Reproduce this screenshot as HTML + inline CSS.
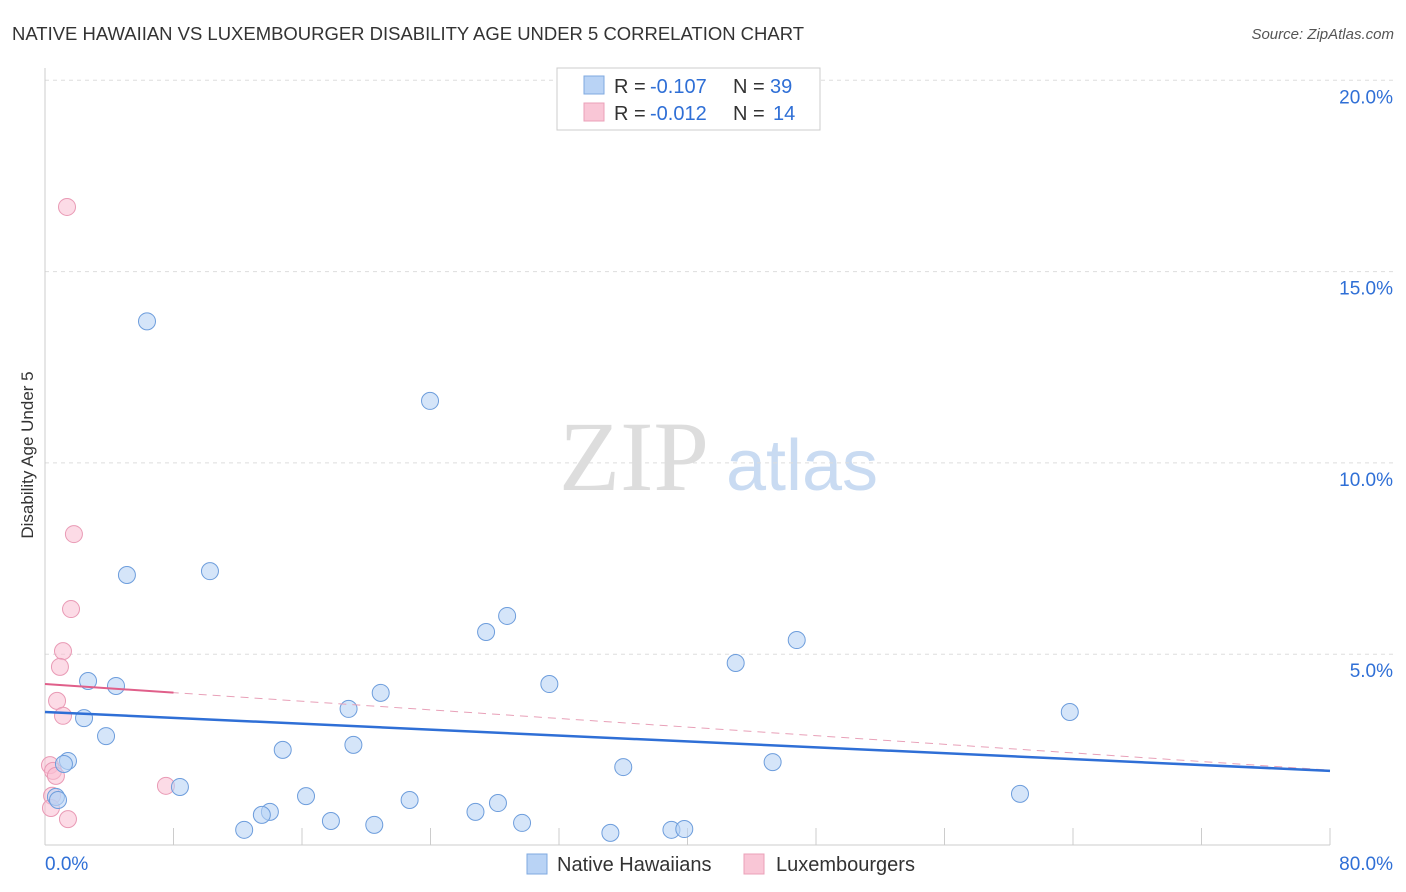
<!DOCTYPE html>
<html><head><meta charset="utf-8"><style>
body{margin:0;background:#fff;font-family:"Liberation Sans",sans-serif;}
</style></head><body>
<svg width="1406" height="892" xmlns="http://www.w3.org/2000/svg" style="display:block">
<text x="12" y="40" font-size="18" fill="#333" textLength="792" lengthAdjust="spacingAndGlyphs">NATIVE HAWAIIAN VS LUXEMBOURGER DISABILITY AGE UNDER 5 CORRELATION CHART</text>
<text x="1394" y="39" font-size="15" fill="#555" font-style="italic" text-anchor="end">Source: ZipAtlas.com</text>
<text x="33" y="455" font-size="17" fill="#333" text-anchor="middle" transform="rotate(-90 33 455)">Disability Age Under 5</text>
<g>
<text x="634" y="490" font-size="100" fill="#ddd" font-family="Liberation Serif,serif" text-anchor="middle">ZIP</text>
<text x="802" y="490" font-size="72" fill="#c9dbf2" text-anchor="middle">atlas</text>
</g>
<g id="grid"></g><g id="axes"></g><g id="marks"></g>
<g>
<rect x="557" y="68" width="263" height="62" fill="#fff" stroke="#ccc"/>
<rect x="584" y="76" width="20" height="18" fill="#b9d3f5" stroke="#7fa9e0"/>
<rect x="584" y="103" width="20" height="18" fill="#f9c6d6" stroke="#eba0b8"/>
<g font-size="20">
<text x="614" y="93" fill="#333">R =</text><text x="650" y="93" fill="#2f6fd6">-0.107</text>
<text x="733" y="93" fill="#333">N =</text><text x="770" y="93" fill="#2f6fd6">39</text>
<text x="614" y="120" fill="#333">R =</text><text x="650" y="120" fill="#2f6fd6">-0.012</text>
<text x="733" y="120" fill="#333">N =</text><text x="773" y="120" fill="#2f6fd6">14</text>
</g>
</g>
<g>
<rect x="527" y="854" width="20" height="20" fill="#b9d3f5" stroke="#7fa9e0"/>
<text x="557" y="871" font-size="20" fill="#333">Native Hawaiians</text>
<rect x="744" y="854" width="20" height="20" fill="#f9c6d6" stroke="#eba0b8"/>
<text x="776" y="871" font-size="20" fill="#333">Luxembourgers</text>
</g>
</svg>
<script>
const yTicks=[5,10,15,20];
const yTickLabels=["5.0%","10.0%","15.0%","20.0%"];
const xTickLabels=["0.0%","80.0%"];
const blueX=[6.35,23.97,5.1,10.27,27.46,28.77,46.8,43.0,31.4,2.68,4.42,20.9,18.9,63.8,2.43,3.8,19.2,14.8,1.43,1.18,36.0,45.3,8.4,60.7,16.25,22.7,28.2,0.68,0.81,26.8,14.0,13.5,17.8,29.7,20.5,12.4,35.2,39.0,39.8];
const blueY=[13.7,11.62,7.07,7.17,5.58,6.0,5.37,4.77,4.22,4.3,4.17,3.99,3.57,3.49,3.33,2.86,2.63,2.5,2.21,2.13,2.05,2.18,1.53,1.35,1.29,1.19,1.11,1.27,1.19,0.88,0.88,0.8,0.64,0.59,0.54,0.41,0.33,0.41,0.43];
const pinkX=[1.37,1.8,1.62,1.12,0.93,0.75,1.12,0.31,0.5,0.68,7.53,0.44,0.37,1.43];
const pinkY=[16.69,8.14,6.18,5.08,4.67,3.78,3.39,2.1,1.95,1.82,1.56,1.3,0.98,0.69];
const blueTrend=[3.49,1.95];
const pinkTrend=[4.22,1.97];
const NS="http://www.w3.org/2000/svg";
const X=v=>45+v*16.0625, Y=v=>845.5-v*38.26;
function mk(tag,attrs,parent){const e=document.createElementNS(NS,tag);for(const k in attrs)e.setAttribute(k,attrs[k]);document.getElementById(parent).appendChild(e);return e;}
yTicks.forEach((t,i)=>{
 const l=mk('line',{x1:45,x2:1393,y1:Y(t),y2:Y(t),stroke:'#ddd','stroke-dasharray':'4,4'},'grid');
 
 
 const tx=mk('text',{x:1393,y:Y(t)+23,'font-size':19,fill:'#2f6fd6','text-anchor':'end'},'grid');
 tx.textContent=yTickLabels[i];
 
 
});
const ax=mk('line',{x1:45,x2:45,y1:68,y2:845,stroke:'#ccc'},'axes');


const bx=mk('line',{x1:45,x2:1330,y1:845,y2:845,stroke:'#ccc'},'axes');


for(let i=0;i<=10;i++){const t=mk('line',{x1:X(i*8),x2:X(i*8),y1:828,y2:845,stroke:'#ccc'},'axes');
 
 }
[[0,45,'start'],[80,1393,'end']].forEach((d,i)=>{const t=mk('text',{x:d[1],y:870,'font-size':19,fill:'#2f6fd6','text-anchor':d[2]},'axes');t.textContent=xTickLabels[i];
 
 });
pinkX.forEach((x,i)=>{const c=mk('circle',{cx:X(x),cy:Y(pinkY[i]),r:8.5,fill:'rgba(249,190,210,0.55)',stroke:'#e99ab5','stroke-width':1},'marks');
 
 });
blueX.forEach((x,i)=>{const c=mk('circle',{cx:X(x),cy:Y(blueY[i]),r:8.5,fill:'rgba(185,211,245,0.6)',stroke:'#6d9ddc','stroke-width':1},'marks');
 
 });
const pt=v=>pinkTrend[0]+(pinkTrend[1]-pinkTrend[0])*v/80;
const pd=mk('line',{x1:X(0),y1:Y(pt(0)),x2:X(80),y2:Y(pt(80)),stroke:'#e8a0b8','stroke-width':1,'stroke-dasharray':'8,6'},'marks');


const ps=mk('line',{x1:X(0),y1:Y(pt(0)),x2:X(8),y2:Y(pt(8)),stroke:'#e05f8a','stroke-width':2},'marks');


const bt=mk('line',{x1:X(0),y1:Y(blueTrend[0]),x2:X(80),y2:Y(blueTrend[1]),stroke:'#2f6fd6','stroke-width':2.5},'marks');


</script>
</body></html>
